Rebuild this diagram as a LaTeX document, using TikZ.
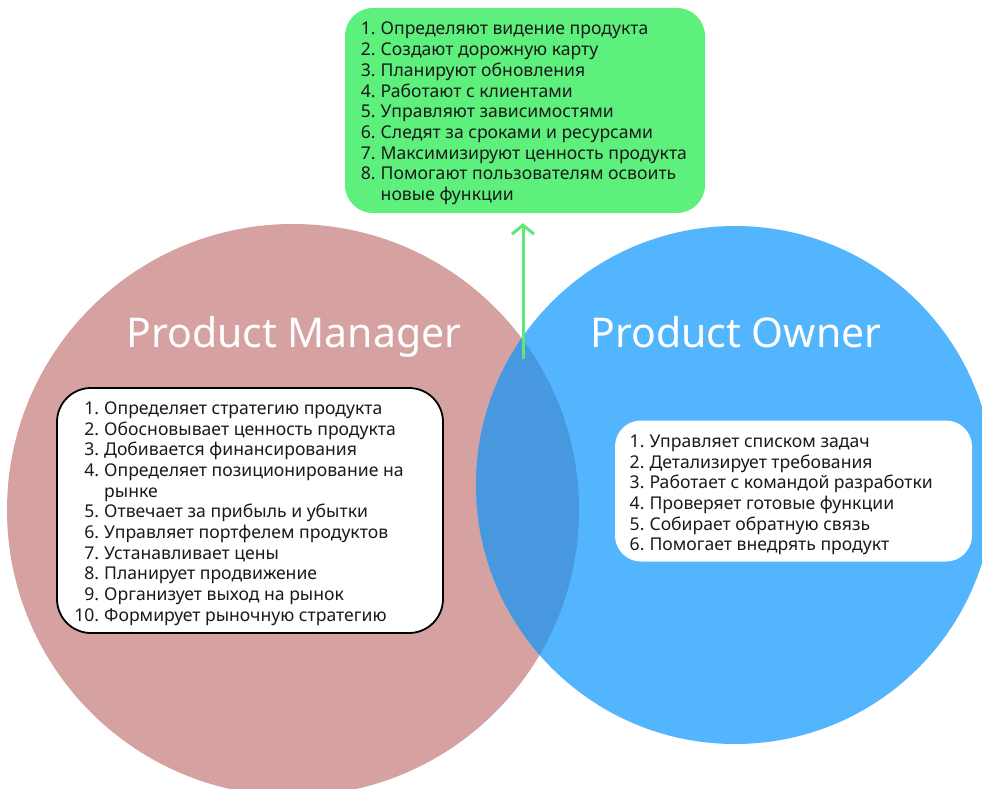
\documentclass[tikz,border=0pt]{standalone}
\usepackage{fontspec}
\setmainfont{Noto Sans}
\usetikzlibrary{arrows.meta}
\definecolor{pmpink}{HTML}{D5A1A1}
\definecolor{poblue}{HTML}{52B5FE}
\definecolor{ovlblue}{HTML}{4898DF}
\definecolor{boxgreen}{HTML}{5EF07C}
\definecolor{arrowgreen}{HTML}{5EE87A}
\definecolor{txt}{HTML}{1A1A1A}
\tikzset{
  title/.style={text=white, font=\fontsize{41}{46}\selectfont, inner sep=0pt, anchor=base},
  listtext/.style={text=txt, font=\fontsize{17.6}{20.7}\selectfont, inner sep=0pt, anchor=base west, align=left},
  roundbox/.style={rounded corners=#1, inner sep=0pt},
}
\newcommand{\lst}[1]{\begin{tabular}[t]{@{}l@{}}#1\end{tabular}}
\newcommand{\itm}[1]{\llap{#1\hspace{5pt}}}
\begin{document}
\begin{tikzpicture}[x=1pt,y=-1pt]
\useasboundingbox (0,0) rectangle (982,789);
% circles
\fill[pmpink] (293,510) circle (286);
\fill[poblue] (735,485) circle (259);
\begin{scope}
  \clip (293,510) circle (286);
  \fill[ovlblue] (735,485) circle (259);
\end{scope}
\useasboundingbox (0,0) rectangle (982,789);
% titles
\node[title] (pmtitle) at (294,347.5) {Product Manager};
\node[title] (potitle) at (736,347.5) {Product Owner};
% green box
\node[roundbox=28pt, fill=boxgreen, minimum width=360pt, minimum height=205pt] (green) at (525,110.5) {};
\node[listtext] (greentext) at (380.5,35) {\lst{%
\itm{1.}Определяют видение продукта\\
\itm{2.}Создают дорожную карту\\
\itm{3.}Планируют обновления\\
\itm{4.}Работают с клиентами\\
\itm{5.}Управляют зависимостями\\
\itm{6.}Следят за сроками и ресурсами\\
\itm{7.}Максимизируют ценность продукта\\
\itm{8.}Помогают пользователям освоить\\
новые функции}};
% left box
\node[roundbox=34pt, fill=white, draw=black, line width=1.8pt, minimum width=386pt, minimum height=245pt] (pmbox) at (250,510.5) {};
\node[listtext] (pmtext) at (104,414.3) {\lst{%
\itm{1.}Определяет стратегию продукта\\
\itm{2.}Обосновывает ценность продукта\\
\itm{3.}Добивается финансирования\\
\itm{4.}Определяет позиционирование на\\
рынке\\
\itm{5.}Отвечает за прибыль и убытки\\
\itm{6.}Управляет портфелем продуктов\\
\itm{7.}Устанавливает цены\\
\itm{8.}Планирует продвижение\\
\itm{9.}Организует выход на рынок\\
\itm{10.}Формирует рыночную стратегию}};
% right box
\node[roundbox=26pt, fill=white, minimum width=357pt, minimum height=141pt] (pobox) at (793.5,491) {};
\node[listtext] (potext) at (649.3,447.3) {\lst{%
\itm{1.}Управляет списком задач\\
\itm{2.}Детализирует требования\\
\itm{3.}Работает с командой разработки\\
\itm{4.}Проверяет готовые функции\\
\itm{5.}Собирает обратную связь\\
\itm{6.}Помогает внедрять продукт}};
% arrow
\coordinate (ovl) at (523,358);
\draw[arrowgreen, line width=3pt, line cap=round, line join=round, shorten >=10pt,
  -{Straight Barb[length=9pt,width=22pt,line width=3pt]}] (ovl) -- (ovl |- green.south);
\end{tikzpicture}
\end{document}
